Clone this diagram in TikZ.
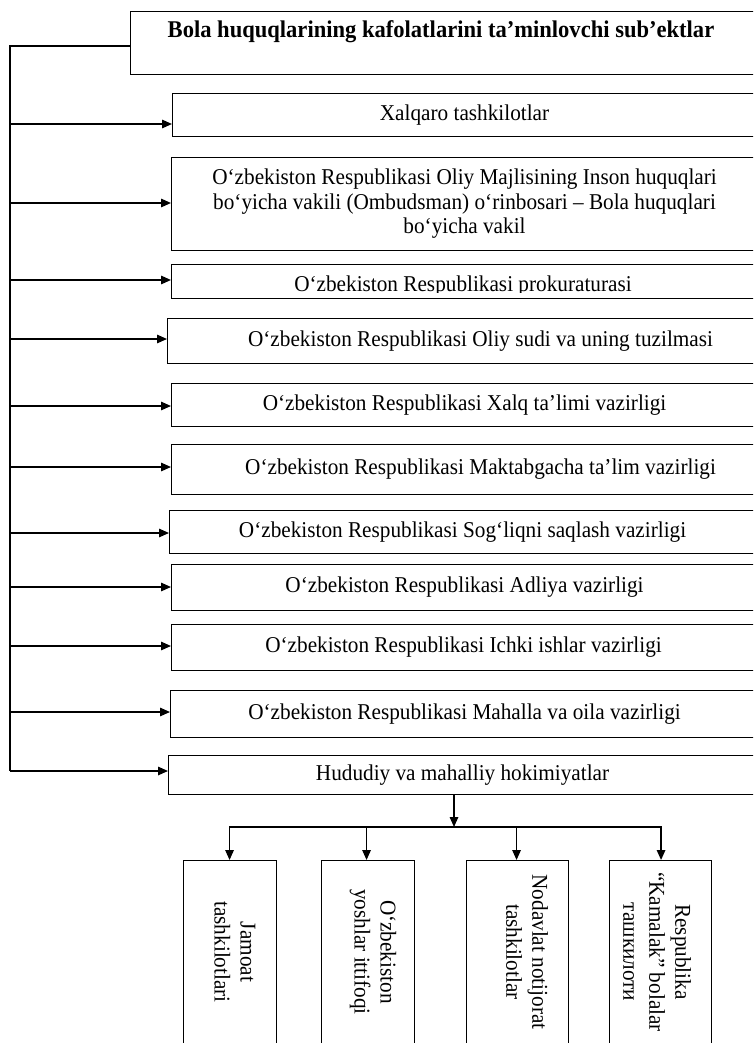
\documentclass[tikz,border=0pt]{standalone}
\usepackage{fontspec}
\setmainfont[FakeStretch=0.94]{Liberation Serif}
\usetikzlibrary{arrows.meta}
\begin{document}
\begin{tikzpicture}[x=1pt,y=-1pt,
  box/.style={draw=black, line width=1.1pt, rectangle, inner sep=0pt, anchor=north west,
    align=center, font=\fontsize{22.6}{24.5}\selectfont},
  txt/.style={inner sep=0pt, font=\fontsize{22.6}{24.5}\selectfont},
  vtxt/.style={inner sep=0pt, rotate=-90, align=center, font=\fontsize{22.6}{26}\selectfont},
  conn/.style={line width=1.5pt, line join=miter},
  arr/.style={conn, -{Triangle[length=10pt,width=8.5pt]}}]
\useasboundingbox (0,0) rectangle (753,1043);
\clip (0,0) rectangle (753,1043);

% title
\node[box, minimum width=630pt, minimum height=63pt] (title) at (130,11) {};
\node[anchor=base, inner sep=0pt, font=\bfseries\fontsize{24}{26}\selectfont] (titletext) at (441,38)
  {Bola huquqlarining kafolatlarini ta’minlovchi sub’ektlar};

% boxes
\node[box, minimum width=584pt, minimum height=43pt] (b1) at (172,93) {Xalqaro tashkilotlar};
\node[box, minimum width=586pt, minimum height=93pt] (b2) at (171,157)
  {O‘zbekiston Respublikasi Oliy Majlisining Inson huquqlari\\ bo‘yicha vakili (Ombudsman) o‘rinbosari – Bola huquqlari\\ bo‘yicha vakil};
\node[box, minimum width=588pt, minimum height=34pt] (b3) at (171,264) {};
\begin{scope}
  \clip (171,264) rectangle (770,292);
  \node[txt, anchor=base] (b3text) at (463,291) {O‘zbekiston Respublikasi prokuraturasi};
\end{scope}
\node[box, minimum width=626pt, minimum height=45pt] (b4) at (167,318) {O‘zbekiston Respublikasi Oliy sudi va uning tuzilmasi};
\node[box, minimum width=586pt, minimum height=43pt] (b5) at (171,383) {O‘zbekiston Respublikasi Xalq ta’limi vazirligi};
\node[box, minimum width=618pt, minimum height=50pt] (b6) at (171,444) {O‘zbekiston Respublikasi Maktabgacha ta’lim vazirligi};
\node[box, minimum width=586pt, minimum height=43pt] (b7) at (169,510) {O‘zbekiston Respublikasi Sog‘liqni saqlash vazirligi};
\node[box, minimum width=586pt, minimum height=46pt] (b8) at (171,564) {O‘zbekiston Respublikasi Adliya vazirligi};
\node[box, minimum width=584pt, minimum height=46pt] (b9) at (171,624) {O‘zbekiston Respublikasi Ichki ishlar vazirligi};
\node[box, minimum width=588pt, minimum height=47pt] (b10) at (170,690) {O‘zbekiston Respublikasi Mahalla va oila vazirligi};
\node[box, minimum width=588pt, minimum height=39pt] (b11) at (168,755) {Hududiy va mahalliy hokimiyatlar};

% bottom boxes
\node[box, minimum width=93pt, minimum height=200pt] (k1) at (183,860) {};
\node[box, minimum width=93pt, minimum height=200pt] (k2) at (321,860) {};
\node[box, minimum width=102pt, minimum height=200pt] (k3) at (466,860) {};
\node[box, minimum width=102pt, minimum height=200pt] (k4) at (609,860) {};
\node[vtxt] (k1t) at (235,952) {Jamoat\\ tashkilotlari};
\node[vtxt] (k2t) at (373,952) {O‘zbekiston\\ yoshlar ittifoqi};
\node[vtxt] (k3t) at (527,952) {Nodavlat notijorat\\ tashkilotlar};
\node[vtxt] (k4t) at (657,952) {Respublika\\ “Kamalak” bolalar\\ ташкилоти};

% trunk
\coordinate (top) at (10,46);
\coordinate (bot) at (10,771);
\draw[conn] (title.west |- top) -- (top) -- (bot);
\draw[arr] (bot) -- (bot -| b11.west);
\coordinate (a1) at (10,124);
\coordinate (a2) at (10,203);
\coordinate (a3) at (10,280);
\coordinate (a4) at (10,339);
\coordinate (a5) at (10,406);
\coordinate (a6) at (10,467);
\coordinate (a7) at (10,533);
\coordinate (a8) at (10,587);
\coordinate (a9) at (10,646);
\coordinate (a10) at (10,712);
\foreach \i in {1,...,10} {
  \draw[arr] (a\i) -- (a\i -| b\i.west);
}

% lower branch
\coordinate (hub) at (454,827);
\draw[arr] (hub |- b11.south) -- (hub);
\draw[arr] (hub) -| ([xshift=-0.5pt]k1.north);
\draw[arr] (hub) -| ([xshift=0.5pt]k4.north);
\draw[arr] ([xshift=-1.5pt]k2.north |- hub) -- ([xshift=-1.5pt]k2.north);
\draw[arr] ([xshift=-1pt]k3.north |- hub) -- ([xshift=-1pt]k3.north);
\end{tikzpicture}
\end{document}
